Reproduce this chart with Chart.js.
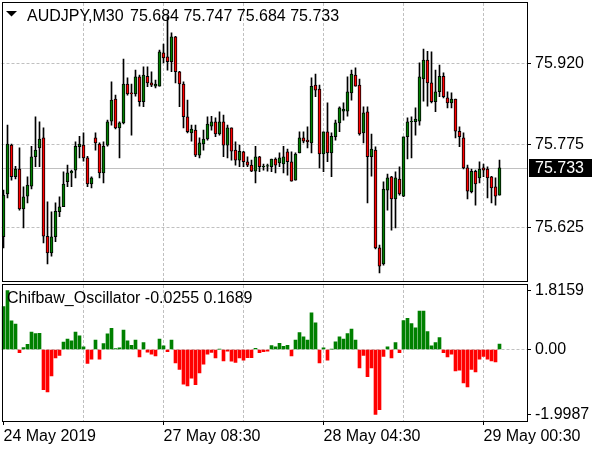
<!DOCTYPE html>
<html>
<head>
<meta charset="utf-8">
<script src="https://cdn.jsdelivr.net/npm/chart.js@4.4.1/dist/chart.umd.min.js"></script>
<style>
  html, body { margin: 0; padding: 0; background: #fff; }
  #wrap { position: relative; width: 600px; height: 450px; overflow: hidden; }
  canvas { position: absolute; left: 0; }
</style>
</head>
<body>
<div id="wrap">
  <canvas id="priceChart" width="600" height="283" style="top:0"></canvas>
  <canvas id="oscChart" width="600" height="167" style="top:283px"></canvas>
</div>
<script>
// AUDJPY M30, 125 bars
const opens = [
  75.609, 75.686, 75.774, 75.717, 75.731, 75.659, 75.682, 75.700, 75.753, 75.769,
  75.787, 75.610, 75.580, 75.609, 75.654, 75.663, 75.708, 75.724, 75.729, 75.771,
  75.774, 75.751, 75.704, 75.787, 75.776, 75.724, 75.774, 75.817, 75.857, 75.805,
  75.814, 75.884, 75.868, 75.866, 75.897, 75.852, 75.898, 75.886, 75.880, 75.880,
  75.940, 75.933, 75.924, 75.969, 75.906, 75.884, 75.825, 75.796, 75.801, 75.756,
  75.776, 75.785, 75.808, 75.816, 75.794, 75.816, 75.774, 75.805, 75.765, 75.747,
  75.762, 75.744, 75.738, 75.727, 75.753, 75.735, 75.736, 75.735, 75.749, 75.742,
  75.740, 75.762, 75.744, 75.711, 75.760, 75.787, 75.783, 75.778, 75.882, 75.875,
  75.758, 75.798, 75.760, 75.789, 75.814, 75.835, 75.835, 75.868, 75.900, 75.882,
  75.796, 75.834, 75.753, 75.765, 75.589, 75.560, 75.693, 75.717, 75.677, 75.713,
  75.682, 75.789, 75.816, 75.816, 75.817, 75.893, 75.927, 75.886, 75.852, 75.870,
  75.898, 75.859, 75.850, 75.857, 75.799, 75.787, 75.733, 75.690, 75.727, 75.715,
  75.733, 75.731, 75.717, 75.699, 75.684
];
const highs = [
  75.693, 75.810, 75.776, 75.736, 75.769, 75.699, 75.717, 75.772, 75.825, 75.816,
  75.805, 75.672, 75.654, 75.670, 75.681, 75.726, 75.738, 75.729, 75.780, 75.790,
  75.796, 75.754, 75.717, 75.796, 75.778, 75.780, 75.819, 75.888, 75.864, 75.816,
  75.929, 75.895, 75.884, 75.909, 75.900, 75.915, 75.915, 75.906, 75.891, 75.945,
  75.956, 76.005, 75.976, 75.970, 75.907, 75.888, 75.855, 75.810, 75.810, 75.787,
  75.801, 75.825, 75.826, 75.823, 75.834, 75.828, 75.810, 75.805, 75.780, 75.774,
  75.763, 75.753, 75.747, 75.772, 75.754, 75.740, 75.740, 75.749, 75.751, 75.760,
  75.772, 75.767, 75.762, 75.760, 75.798, 75.798, 75.807, 75.895, 75.902, 75.882,
  75.798, 75.850, 75.796, 75.819, 75.843, 75.850, 75.897, 75.909, 75.913, 75.893,
  75.843, 75.843, 75.794, 75.771, 75.594, 75.708, 75.722, 75.718, 75.726, 75.735,
  75.789, 75.823, 75.825, 75.841, 75.922, 75.947, 75.943, 75.942, 75.909, 75.918,
  75.904, 75.870, 75.868, 75.857, 75.807, 75.796, 75.738, 75.731, 75.729, 75.744,
  75.740, 75.735, 75.718, 75.715, 75.747
];
const lows = [
  75.589, 75.679, 75.711, 75.713, 75.657, 75.625, 75.670, 75.695, 75.735, 75.735,
  75.598, 75.560, 75.574, 75.600, 75.645, 75.663, 75.699, 75.699, 75.715, 75.751,
  75.745, 75.699, 75.697, 75.765, 75.715, 75.706, 75.772, 75.810, 75.803, 75.751,
  75.812, 75.864, 75.792, 75.862, 75.844, 75.843, 75.879, 75.879, 75.877, 75.880,
  75.922, 75.909, 75.906, 75.886, 75.843, 75.805, 75.796, 75.781, 75.753, 75.751,
  75.765, 75.783, 75.801, 75.789, 75.792, 75.753, 75.751, 75.747, 75.738, 75.735,
  75.735, 75.735, 75.726, 75.706, 75.726, 75.729, 75.727, 75.726, 75.724, 75.735,
  75.724, 75.720, 75.709, 75.711, 75.760, 75.778, 75.769, 75.760, 75.861, 75.733,
  75.726, 75.744, 75.717, 75.783, 75.798, 75.819, 75.826, 75.855, 75.880, 75.792,
  75.778, 75.670, 75.718, 75.587, 75.544, 75.558, 75.657, 75.621, 75.625, 75.684,
  75.681, 75.749, 75.751, 75.792, 75.810, 75.853, 75.844, 75.850, 75.834, 75.861,
  75.859, 75.841, 75.841, 75.787, 75.771, 75.731, 75.677, 75.688, 75.666, 75.706,
  75.717, 75.679, 75.670, 75.666, 75.684
];
const closes = [
  75.684, 75.776, 75.717, 75.731, 75.659, 75.681, 75.702, 75.753, 75.765, 75.785,
  75.610, 75.580, 75.609, 75.655, 75.663, 75.704, 75.724, 75.727, 75.772, 75.776,
  75.751, 75.704, 75.715, 75.778, 75.724, 75.772, 75.816, 75.855, 75.805, 75.814,
  75.884, 75.866, 75.866, 75.897, 75.852, 75.900, 75.886, 75.882, 75.884, 75.942,
  75.931, 75.924, 75.969, 75.906, 75.884, 75.825, 75.798, 75.803, 75.756, 75.778,
  75.785, 75.812, 75.816, 75.794, 75.816, 75.774, 75.805, 75.763, 75.747, 75.763,
  75.744, 75.738, 75.727, 75.753, 75.735, 75.736, 75.737, 75.749, 75.738, 75.751,
  75.753, 75.744, 75.709, 75.758, 75.787, 75.781, 75.780, 75.880, 75.873, 75.758,
  75.798, 75.760, 75.790, 75.814, 75.841, 75.839, 75.870, 75.902, 75.880, 75.794,
  75.832, 75.753, 75.767, 75.589, 75.556, 75.695, 75.715, 75.677, 75.715, 75.686,
  75.789, 75.816, 75.817, 75.821, 75.897, 75.927, 75.886, 75.852, 75.870, 75.898,
  75.861, 75.850, 75.857, 75.799, 75.789, 75.733, 75.691, 75.727, 75.704, 75.731,
  75.729, 75.715, 75.697, 75.682, 75.733
];

// Chifbaw oscillator histogram
const oscValues = [
  1.32, 1.8159, 0.88, 0.78, -0.10, 0.06, 0.16, 0.54, 0.49, 0.50,
  -1.24, -1.31, -0.81, -0.26, -0.18, 0.23, 0.32, 0.27, 0.54, 0.42,
  0.08, -0.43, -0.30, 0.29, -0.30, 0.18, 0.48, 0.65, 0.03, 0.05,
  0.60, 0.27, 0.13, 0.29, -0.23, 0.21, -0.08, -0.14, -0.20, 0.32,
  0.11, -0.07, 0.29, -0.41, -0.61, -1.07, -1.12, -0.88, -1.08, -0.72,
  -0.45, -0.14, -0.09, -0.26, 0.01, -0.35, -0.05, -0.36, -0.40, -0.26,
  -0.33, -0.25, -0.25, 0.04, -0.10, -0.07, -0.05, 0.12, 0.08, 0.19,
  0.10, 0.13, -0.20, 0.29, 0.52, 0.39, 0.29, 1.13, 0.82, -0.41,
  0.05, -0.33, 0.01, 0.24, 0.39, 0.32, 0.49, 0.63, 0.29, -0.57,
  -0.18, -0.84, -0.57, -1.9987, -1.85, -0.21, 0.08, -0.26, 0.21, -0.10,
  0.89, 0.96, 0.80, 0.67, 1.18, 1.18, 0.55, 0.11, 0.21, 0.37,
  -0.10, -0.23, -0.14, -0.66, -0.64, -1.03, -1.15, -0.61, -0.69, -0.30,
  -0.21, -0.30, -0.35, -0.38, 0.1689
];

// axis labels
const priceTicks = [75.625, 75.775, 75.920];
const bidPrice = 75.733;
const oscTicks = [1.8159, 0, -1.9987];
const oscTickText = ['1.8159', '0.00', '-1.9987'];
const gridBars = [0, 20, 40, 60, 80, 100, 120];
const timeBars = [0, 40, 80, 120];
const timeLabels = ['24 May 2019', '27 May 08:30', '28 May 04:30', '29 May 00:30'];

const titleText = 'AUDJPY,M30';
const titleValues = '75.684 75.747 75.684 75.733';
const oscTitle = 'Chifbaw_Oscillator -0.0255 0.1689';

const bullColor = '#008000';
const bearColor = '#ff0000';
const gridColor = '#c0c0c0';
const fontFamily = '"Liberation Sans", Arial, sans-serif';

Chart.defaults.font.family = fontFamily;
Chart.defaults.font.size = 16;
Chart.defaults.color = '#000';

// visible bar range (empty space on the right like MT4)
const xMin = -0.5;
const xMax = 130.875;

// black frame round each window
const framePlugin = {
    id: 'frame',
    afterDraw(chart) {
        const a = chart.chartArea;
        const ctx = chart.ctx;
        ctx.save();
        ctx.strokeStyle = '#000';
        ctx.lineWidth = 1;
        ctx.strokeRect(a.left + 1, a.top - 0.5, a.right - a.left - 0.5, a.bottom - a.top);
        ctx.restore();
    }
};

const pricePlugin = {
    id: 'priceDeco',
    beforeDatasetsDraw(chart) {
        const a = chart.chartArea;
        const ctx = chart.ctx;
        const y = Math.round(chart.scales.y.getPixelForValue(bidPrice)) + 0.5;
        ctx.save();
        ctx.strokeStyle = gridColor;
        ctx.lineWidth = 1;
        ctx.beginPath();
        ctx.moveTo(a.left, y);
        ctx.lineTo(a.right, y);
        ctx.stroke();
        ctx.restore();
    },
    afterDraw(chart) {
        const a = chart.chartArea;
        const ctx = chart.ctx;
        ctx.save();
        // title
        ctx.fillStyle = '#000';
        ctx.beginPath();
        ctx.moveTo(6, 11);
        ctx.lineTo(17, 11);
        ctx.lineTo(11.5, 16.5);
        ctx.closePath();
        ctx.fill();
        ctx.font = '16px ' + fontFamily;
        ctx.textBaseline = 'alphabetic';
        ctx.textAlign = 'left';
        ctx.fillText(titleText, 27, 21);
        ctx.fillText(titleValues, 130, 21);
        // bid price box
        const y = Math.round(chart.scales.y.getPixelForValue(bidPrice));
        ctx.fillRect(a.right + 2, y - 9, 63, 18);
        ctx.fillStyle = '#fff';
        ctx.textBaseline = 'middle';
        ctx.fillText(bidPrice.toFixed(3), a.right + 8, y + 1);
        ctx.restore();
    }
};

const oscPlugin = {
    id: 'oscDeco',
    afterDraw(chart) {
        const ctx = chart.ctx;
        ctx.save();
        ctx.fillStyle = '#000';
        ctx.font = '16px ' + fontFamily;
        ctx.textBaseline = 'alphabetic';
        ctx.fillText(oscTitle, 7, 20);
        ctx.restore();
    }
};

function gridX(showLabels) {
    return {
        type: 'linear',
        min: xMin,
        max: xMax,
        offset: false,
        afterBuildTicks: s => { s.ticks = gridBars.map(v => ({ value: v })); },
        afterFit: s => {
            s.height = showLabels ? 28 : 0;
            s.paddingLeft = 0;
            s.paddingRight = 0;
        },
        ticks: {
            display: showLabels,
            autoSkip: false,
            maxRotation: 0,
            align: 'start',
            padding: 2,
            callback: v => {
                const k = timeBars.indexOf(v);
                return k >= 0 ? timeLabels[k] : '';
            }
        },
        grid: {
            offset: false,
            drawTicks: showLabels,
            tickLength: 3,
            tickColor: c => (c.tick && timeBars.includes(c.tick.value)) ? '#000' : 'transparent',
            color: c => (c.tick && c.tick.value > 0) ? gridColor : 'transparent'
        },
        border: { display: false, dash: [3, 2] }
    };
}

// right price scale, no extra room above/below the labels
function fitRight(s) {
    s.width = 73;
    s.paddingTop = 0;
    s.paddingBottom = 0;
}

const barIdx = opens.map((o, i) => i);

// price window
new Chart(document.getElementById('priceChart'), {
    type: 'bar',
    data: {
        datasets: [
            {
                label: 'body',
                data: barIdx.map(i => ({ x: i, y: [opens[i], closes[i]] })),
                backgroundColor: barIdx.map(i => closes[i] >= opens[i] ? bullColor : bearColor),
                borderColor: '#000',
                borderWidth: 1,
                borderSkipped: false,
                barThickness: 3,
                grouped: false
            },
            {
                label: 'wick',
                data: barIdx.map(i => ({ x: i, y: [lows[i], highs[i]] })),
                backgroundColor: '#000',
                borderWidth: 0,
                barThickness: 1,
                grouped: false
            }
        ]
    },
    options: {
        responsive: false,
        animation: false,
        devicePixelRatio: 1,
        layout: { padding: { left: 1.5, top: 3, right: 0, bottom: 1 } },
        plugins: { legend: { display: false }, tooltip: { enabled: false } },
        scales: {
            x: gridX(false),
            y: {
                position: 'right',
                min: 75.5276,
                max: 76.0298,
                afterBuildTicks: s => { s.ticks = priceTicks.map(v => ({ value: v })); },
                afterFit: fitRight,
                ticks: { padding: 4, callback: v => v.toFixed(3) },
                grid: { tickLength: 4, tickColor: '#000', color: gridColor },
                border: { display: false, dash: [3, 2] }
            }
        }
    },
    plugins: [pricePlugin, framePlugin]
});

// oscillator window
new Chart(document.getElementById('oscChart'), {
    type: 'bar',
    data: {
        datasets: [{
            label: 'Chifbaw_Oscillator',
            data: oscValues.map((v, i) => ({ x: i, y: v })),
            backgroundColor: oscValues.map(v => v >= 0 ? bullColor : bearColor),
            borderWidth: 0,
            barThickness: 3
        }]
    },
    options: {
        responsive: false,
        animation: false,
        devicePixelRatio: 1,
        layout: { padding: { left: 1.5, top: 2, right: 0, bottom: 0 } },
        plugins: { legend: { display: false }, tooltip: { enabled: false } },
        scales: {
            x: gridX(true),
            y: {
                position: 'right',
                min: -2.233,
                max: 1.987,
                afterBuildTicks: s => { s.ticks = oscTicks.map(v => ({ value: v })); },
                afterFit: fitRight,
                ticks: {
                    padding: 4,
                    callback: v => oscTickText[oscTicks.indexOf(v)]
                },
                grid: {
                    tickLength: 4,
                    tickColor: '#000',
                    color: c => (c.tick && c.tick.value === 0) ? gridColor : 'transparent'
                },
                border: { display: false, dash: [3, 2] }
            }
        }
    },
    plugins: [oscPlugin, framePlugin]
});
</script>
</body>
</html>
